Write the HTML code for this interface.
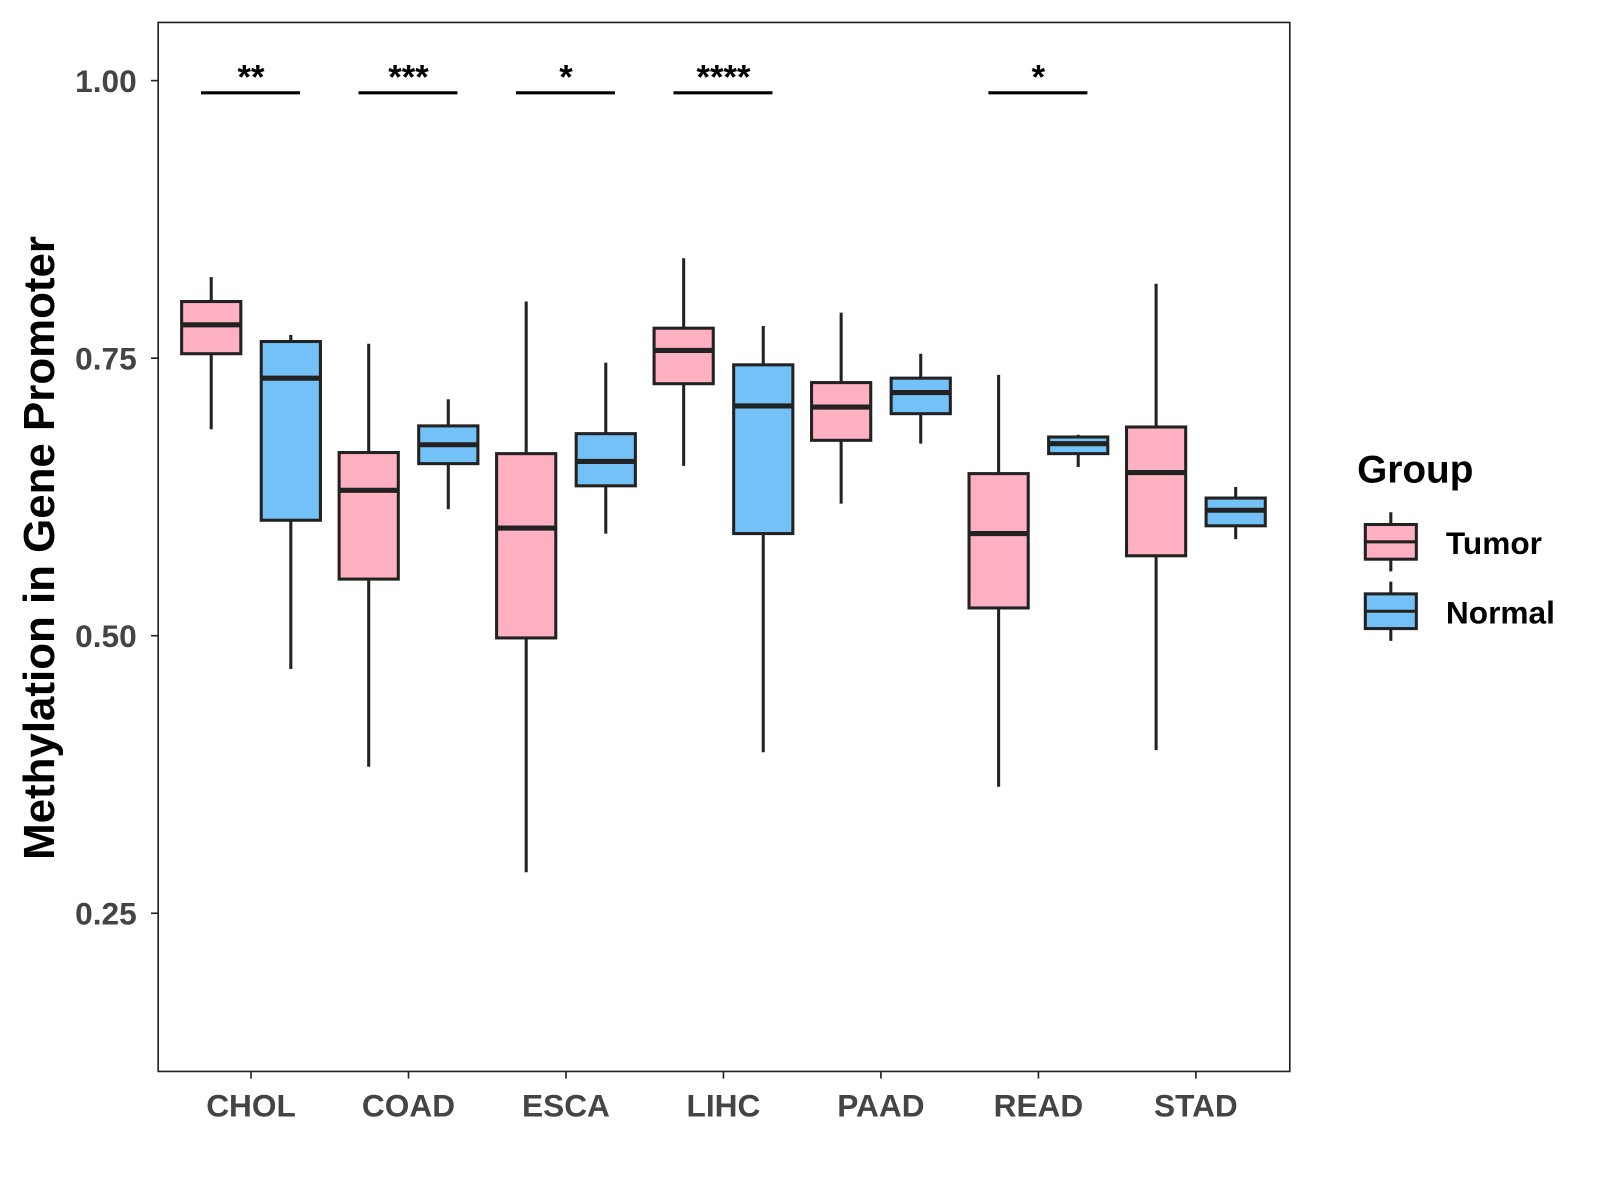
<!DOCTYPE html>
<html><head><meta charset="utf-8"><style>
html,body{margin:0;padding:0;background:#fff;}
svg{display:block;font-family:"Liberation Sans",Arial,sans-serif;}
</style></head><body>
<svg id="chart" width="1600" height="1200" viewBox="0 0 1568 1176" xmlns="http://www.w3.org/2000/svg">
<rect x="0" y="0" width="1568" height="1176" fill="#fff"/>
<rect x="155" y="22" width="1109" height="1028" fill="none" stroke="#222" stroke-width="1.6"/>
<text transform="translate(53,537) rotate(-90)" text-anchor="middle" font-size="43" font-weight="bold" fill="#000">Methylation in Gene Promoter</text>
<g id="axes"></g>
<g id="boxes"></g>
<g id="sig"></g>
<g>
<text x="1330" y="473" font-size="38" font-weight="bold">Group</text>
<g>
<line x1="1363" y1="502" x2="1363" y2="560" stroke="#222" stroke-width="3"/>
<rect x="1338" y="514" width="50" height="34" fill="#FFB0C1" stroke="#222" stroke-width="3"/>
<line x1="1338" y1="531" x2="1388" y2="531" stroke="#222" stroke-width="3"/>
<text x="1417" y="543" font-size="31" font-weight="bold">Tumor</text></g>
<g>
<line x1="1363" y1="570" x2="1363" y2="628" stroke="#222" stroke-width="3"/>
<rect x="1338" y="582" width="50" height="34" fill="#74C1F7" stroke="#222" stroke-width="3"/>
<line x1="1338" y1="599" x2="1388" y2="599" stroke="#222" stroke-width="3"/>
<text x="1417" y="611" font-size="31" font-weight="bold">Normal</text></g>
</g>
</svg>
<script>
const categories=["CHOL","COAD","ESCA","LIHC","PAAD","READ","STAD"];
// [low, q1, median, q3, high]
const tumorStats=[[0.686,0.754,0.780,0.801,0.823],[0.382,0.551,0.631,0.665,0.763],[0.287,0.498,0.597,0.664,0.801],[0.653,0.727,0.757,0.777,0.840],[0.619,0.676,0.706,0.728,0.791],[0.364,0.525,0.592,0.646,0.735],[0.397,0.572,0.647,0.688,0.817]];
const normalStats=[[0.470,0.604,0.732,0.765,0.771],[0.614,0.655,0.672,0.689,0.713],[0.592,0.635,0.657,0.682,0.746],[0.395,0.592,0.707,0.744,0.779],[0.673,0.700,0.719,0.732,0.754],[0.652,0.664,0.673,0.679,0.681],[0.587,0.599,0.613,0.624,0.634]];
const sigLabels=["**","***","*","****","","*",""];
const sigLevel=[0.989,0.989,0.989,0.989,0.989,0.989,0.989];
const yTicks=[0.25,0.50,0.75,1.00];
const yTickLabels=["0.25","0.50","0.75","1.00"];

const NS="http://www.w3.org/2000/svg";
const y=v=>79+(1-v)*1088;
const x=i=>246+i*154.33;
function mk(tag,attrs,parent){const e=document.createElementNS(NS,tag);for(const k in attrs)e.setAttribute(k,attrs[k]);parent.appendChild(e);return e;}
const axes=document.getElementById('axes'),boxes=document.getElementById('boxes'),sig=document.getElementById('sig');
yTicks.forEach((t,i)=>{
  const l=mk('line',{x1:148,x2:155,y1:y(t),y2:y(t),stroke:'#222','stroke-width':1.6},axes);
  
  
  const tx=mk('text',{x:134,y:y(t)+11,'text-anchor':'end','font-size':31,'font-weight':'bold',fill:'#444'},axes);
  tx.textContent=yTickLabels[i];
  
  
});
categories.forEach((c,i)=>{
  const l=mk('line',{x1:x(i),x2:x(i),y1:1050,y2:1057,stroke:'#222','stroke-width':1.6},axes);
  
  
  const tx=mk('text',{x:x(i),y:1094,'text-anchor':'middle','font-size':31,'font-weight':'bold',fill:'#444'},axes);
  tx.textContent=c;
  
  
  [[tumorStats[i],-39,'#FFB0C1','tumor'],[normalStats[i],39,'#74C1F7','normal']].forEach(([s,off,col,nm])=>{
    const cx=x(i)+off;
    const g=mk('g',{},boxes);
    
    
    mk('line',{x1:cx,x2:cx,y1:y(s[0]),y2:y(s[4]),stroke:'#222','stroke-width':3},g);
    mk('rect',{x:cx-29,y:y(s[3]),width:58,height:y(s[1])-y(s[3]),fill:col,stroke:'#222','stroke-width':3},g);
    mk('line',{x1:cx-29,x2:cx+29,y1:y(s[2]),y2:y(s[2]),stroke:'#222','stroke-width':5},g);
  });
  if(sigLabels[i]){
    const ln=mk('line',{x1:x(i)-49,x2:x(i)+48,y1:y(sigLevel[i]),y2:y(sigLevel[i]),stroke:'#000','stroke-width':3},sig);
    
    
    const st=mk('text',{x:x(i),y:y(sigLevel[i])-4,'text-anchor':'middle','font-size':34,'font-weight':'bold',fill:'#000'},sig);
    st.textContent=sigLabels[i];
    
    
  }
});
</script>
</body></html>
